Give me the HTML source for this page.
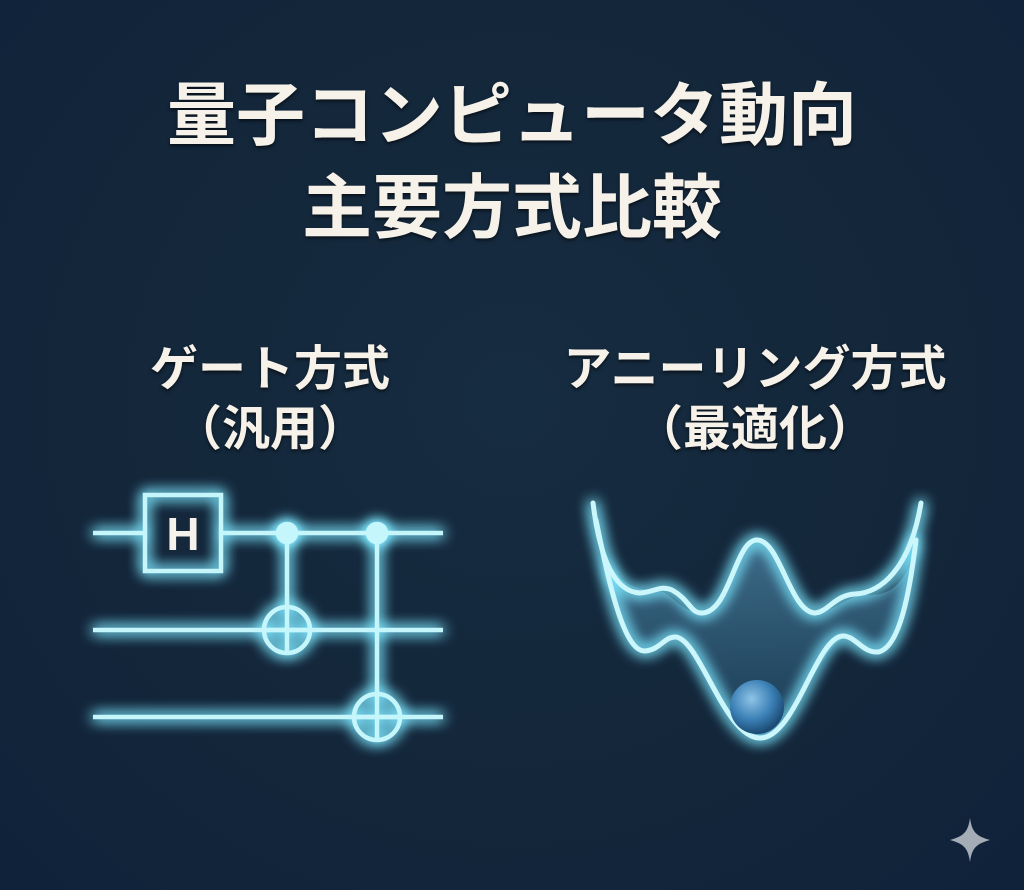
<!DOCTYPE html>
<html><head><meta charset="utf-8"><style>
html,body{margin:0;padding:0}
body{width:1024px;height:890px;overflow:hidden;background:radial-gradient(ellipse at 50% 45%,#162c40 0%,#13263a 60%,#10223a 100%);position:relative;font-family:"Liberation Sans","Noto Sans CJK JP",sans-serif;}
.t{position:absolute;left:0;width:1024px;text-align:center;color:#f6f2ea;font-weight:bold;white-space:nowrap;text-shadow:0 2px 3px rgba(0,0,0,.6)}
.s{position:absolute;text-align:center;color:#f6f2ea;font-weight:bold;white-space:nowrap;font-size:48px;text-shadow:0 2px 3px rgba(0,0,0,.6)}
svg{position:absolute;left:0;top:0}
</style></head><body>
<div class="t" style="top:76px;font-size:69px;line-height:80px">量子コンピュータ動向</div>
<div class="t" style="top:168px;font-size:70px;line-height:80px">主要方式比較</div>
<div class="s" style="left:70px;width:400px;top:340px;line-height:60px">ゲート方式</div>
<div class="s" style="left:70px;width:400px;top:400px;line-height:60px">（汎用）</div>
<div class="s" style="left:555px;width:400px;top:340px;line-height:60px">アニーリング方式</div>
<div class="s" style="left:555px;width:400px;top:400px;line-height:60px">（最適化）</div>
<svg width="1024" height="890">
<defs>
<filter id="g" x="-20%" y="-20%" width="140%" height="140%"><feGaussianBlur in="SourceGraphic" stdDeviation="7" result="b"/><feColorMatrix in="b" type="matrix" values="0 0 0 0 0.2  0 0 0 0 0.8  0 0 0 0 1  0 0 0 1.4 0" result="c"/><feMerge><feMergeNode in="c"/><feMergeNode in="c"/><feMergeNode in="SourceGraphic"/></feMerge></filter>
<radialGradient id="ball" cx="40%" cy="35%" r="65%"><stop offset="0" stop-color="#8fc3e6"/><stop offset=".6" stop-color="#3a7fb5"/><stop offset="1" stop-color="#1c4a73"/></radialGradient>
<linearGradient id="fill" x1="0" y1="0" x2="0" y2="1"><stop offset="0" stop-color="#5a9bbd" stop-opacity=".6"/><stop offset="1" stop-color="#2a5f80" stop-opacity=".4"/></linearGradient>
</defs>
<g filter="url(#g)" stroke="#c4f6fc" stroke-width="4.5" fill="none">
<line x1="93" y1="533" x2="143" y2="533"/><line x1="223" y1="533" x2="443" y2="533"/>
<line x1="93" y1="630" x2="443" y2="630"/>
<line x1="93" y1="717" x2="443" y2="717"/>
<rect x="145" y="495" width="76" height="76"/>
<line x1="287" y1="533" x2="287" y2="654"/>
<line x1="377" y1="533" x2="377" y2="741"/>
<circle cx="287" cy="630" r="23"/><line x1="264" y1="630" x2="310" y2="630"/>
<circle cx="377" cy="717" r="23"/><line x1="354" y1="717" x2="400" y2="717"/>
<circle cx="287" cy="533" r="9" fill="#c4f6fc"/>
<circle cx="377" cy="533" r="9" fill="#c4f6fc"/>
</g>
<text x="183" y="550" text-anchor="middle" font-family="Liberation Sans" font-weight="bold" font-size="46" fill="#f4f2ea">H</text>
<path d="M605,555 C615,600 630,650 645,651 C660,655 665,635 680,640 C700,650 730,740 760,738 C790,740 820,645 845,638 C860,634 868,655 880,650 C900,640 912,570 918,545 C905,585 890,595 870,595 C850,592 840,610 815,613 C790,612 780,540 757,540 C735,540 725,612 700,613 C680,612 670,590 655,590 C635,592 615,580 605,555Z" fill="url(#fill)"/>
<g filter="url(#g)" stroke="#cbf7fc" stroke-width="5" fill="none" stroke-linecap="round">
<path d="M593,503 C600,560 615,592 640,593 C655,592 660,585 672,590 C690,600 690,613 702,613 C730,612 735,540 757,540 C780,540 790,612 815,613 C828,612 835,595 855,594 C880,593 910,570 921,503"/>
<path d="M596,520 C610,590 625,652 645,651 C660,650 665,636 676,637 C700,640 725,738 760,738 C795,738 815,640 842,636 C855,635 862,653 878,652 C900,648 910,590 916,540"/>
</g>
<circle cx="757" cy="707" r="27" fill="url(#ball)"/>
<path d="M970,818 C972,832 976,836 990,840 C976,844 972,848 970,862 C968,848 964,844 950,840 C964,836 968,832 970,818Z" fill="#c9ced6" opacity=".8"/>
</svg>
</body></html>
